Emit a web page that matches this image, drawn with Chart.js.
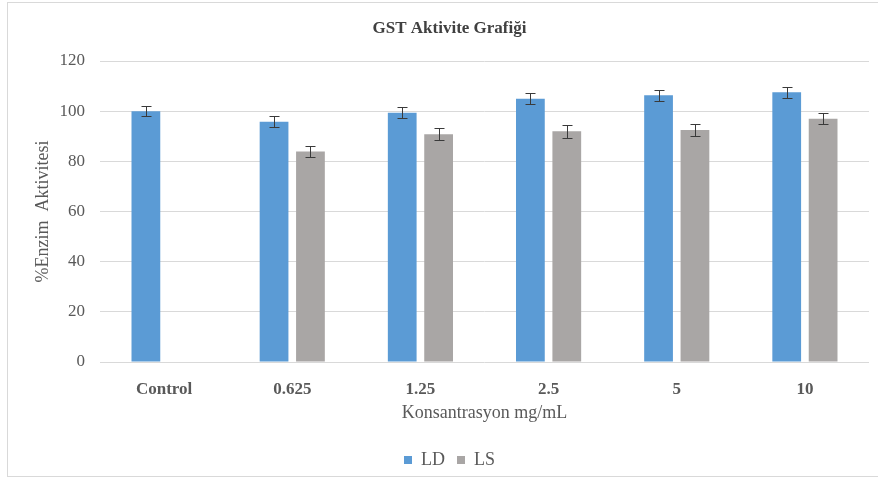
<!DOCTYPE html>
<html>
<head>
<meta charset="utf-8">
<script src="https://cdn.jsdelivr.net/npm/chart.js@4/dist/chart.umd.min.js"></script>
<style>
  html, body { margin: 0; padding: 0; background: #fff; }
  #wrap { width: 878px; height: 486px; position: relative; }
</style>
</head>
<body>
<div id="wrap"><canvas id="myChart" width="878" height="486"></canvas></div>
<script>
const categories = ["Control", "0.625", "1.25", "2.5", "5", "10"];
const ldValues = [100, 95.8, 99.4, 105.0, 106.3, 107.5];
const ldErrors = [1.9, 2.1, 2.2, 2.1, 2.1, 2.2];
const lsValues = [null, 83.9, 90.8, 92.0, 92.5, 97.0];
const lsErrors = [null, 2.1, 2.4, 2.5, 2.4, 2.1];
const yTicks = [0, 20, 40, 60, 80, 100, 120];

const serif = "'Liberation Serif', 'Times New Roman', serif";
const textColor = "#595959";

// light frame round the whole chart
const framePlugin = {
    id: "frame",
    beforeDraw(chart) {
        const ctx = chart.ctx;
        ctx.save();
        ctx.strokeStyle = "#d9d9d9";
        ctx.lineWidth = 1;
        ctx.strokeRect(7.5, 2.5, 880, 474);
        ctx.restore();
    }
};

// error bars from the error arrays, placed through the y scale
const errorBarPlugin = {
    id: "errorBars",
    afterDatasetsDraw(chart) {
        const ctx = chart.ctx;
        const yScale = chart.scales.y;
        const errs = [ldErrors, lsErrors];
        ctx.save();
        ctx.strokeStyle = "#3a3a3a";
        ctx.lineWidth = 1;
        chart.data.datasets.forEach((ds, di) => {
            const meta = chart.getDatasetMeta(di);
            meta.data.forEach((bar, i) => {
                const v = ds.data[i];
                const e = errs[di][i];
                if (v == null || e == null) return;
                const x = Math.round(bar.x) + 0.5;
                const yTop = Math.round(yScale.getPixelForValue(v + e)) + 0.5;
                const yBot = Math.round(yScale.getPixelForValue(v - e)) + 0.5;
                ctx.beginPath();
                ctx.moveTo(x, yTop);
                ctx.lineTo(x, yBot);
                ctx.moveTo(x - 5, yTop);
                ctx.lineTo(x + 5, yTop);
                ctx.moveTo(x - 5, yBot);
                ctx.lineTo(x + 5, yBot);
                ctx.stroke();
            });
        });
        ctx.restore();
    }
};

const ctx = document.getElementById("myChart").getContext("2d");
const myChart = new Chart(ctx, {
    type: "bar",
    data: {
        labels: categories,
        datasets: [{
            label: "LD",
            data: ldValues,
            backgroundColor: "#5b9bd5",
            categoryPercentage: 0.568,
            barPercentage: 0.79
        }, {
            label: "LS",
            data: lsValues,
            backgroundColor: "#a9a6a5",
            categoryPercentage: 0.568,
            barPercentage: 0.79
        }]
    },
    options: {
        responsive: false,
        animation: false,
        layout: {
            padding: { left: 30, right: 9, top: 0, bottom: 7 }
        },
        plugins: {
            title: {
                display: true,
                text: "GST Aktivite Grafiği",
                color: "#404040",
                font: { family: serif, size: 17, weight: "bold" },
                padding: { top: 18, bottom: 22.6 }
            },
            legend: {
                position: "bottom",
                labels: {
                    color: textColor,
                    font: { family: serif, size: 18 },
                    boxWidth: 8,
                    boxHeight: 8,
                    padding: 12
                }
            },
            tooltip: { enabled: false }
        },
        scales: {
            x: {
                grid: { display: false },
                border: { display: false },
                ticks: {
                    color: textColor,
                    font: { family: serif, size: 17, weight: "bold" },
                    padding: 9,
                    maxRotation: 0
                },
                title: {
                    display: true,
                    text: "Konsantrasyon mg/mL",
                    color: textColor,
                    font: { family: serif, size: 18 },
                    padding: { top: 0, bottom: 15 }
                },
                afterFit(scale) { scale.height = 77; }
            },
            y: {
                min: 0,
                max: 120,
                afterBuildTicks(scale) {
                    scale.ticks = yTicks.map(v => ({ value: v }));
                },
                grid: { color: "#d9d9d9", drawTicks: false },
                border: { display: false },
                ticks: {
                    color: textColor,
                    font: { family: serif, size: 17 },
                    padding: 15
                },
                title: {
                    display: true,
                    text: "%Enzim  Aktivitesi",
                    color: textColor,
                    font: { family: serif, size: 18 },
                    padding: { top: 2, bottom: 0 }
                },
                afterFit(scale) { scale.width = 70; }
            }
        }
    },
    plugins: [framePlugin, errorBarPlugin]
});
</script>
</body>
</html>
